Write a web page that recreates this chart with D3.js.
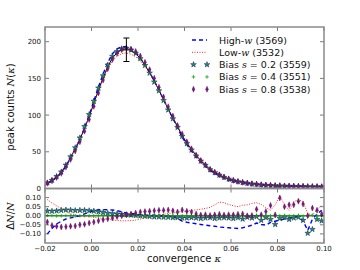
<!DOCTYPE html>
<html>
<head>
<meta charset="utf-8">
<script src="https://cdn.jsdelivr.net/npm/d3@7"></script>
<style>
  body { margin: 0; background: #fff; }
  svg { display: block; }
  text { font-family: "DejaVu Sans", sans-serif; fill: #111; }
  .mi { font-family: "DejaVu Serif", serif; font-style: italic; }
</style>
</head>
<body>
<script>
// bin centres (convergence kappa)
var kappa = [-0.019,-0.017,-0.015,-0.013,-0.011,-0.009,-0.007,-0.005,-0.003,-0.001,
              0.001, 0.003, 0.005, 0.007, 0.009, 0.011, 0.013, 0.015, 0.017, 0.019,
              0.021, 0.023, 0.025, 0.027, 0.029, 0.031, 0.033, 0.035, 0.037, 0.039,
              0.041, 0.043, 0.045, 0.047, 0.049, 0.051, 0.053, 0.055, 0.057, 0.059,
              0.061, 0.063, 0.065, 0.067, 0.069, 0.071, 0.073, 0.075, 0.077, 0.079,
              0.081, 0.083, 0.085, 0.087, 0.089, 0.091, 0.093, 0.095, 0.097, 0.099];

// reference peak counts N(kappa)
var peakCounts = [7.5, 11, 16, 22, 31, 42, 54, 67, 82, 98,
                  116, 134, 151, 166, 178, 185, 189, 190, 188, 184,
                  177, 168, 158, 146, 134, 121, 108, 96, 84, 72,
                  62, 53, 45, 38, 32, 26, 22, 18.5, 15.5, 13,
                  11, 9.5, 8.3, 7.3, 6.4, 5.7, 5.1, 4.6, 4.2, 3.9,
                  3.6, 3.4, 3.2, 3.0, 2.9, 2.8, 2.7, 2.6, 2.5, 2.4];

// relative differences dN/N
var dHighW = [-0.100,-0.070,-0.045,-0.030,-0.018,-0.012,-0.006, 0.000, 0.010, 0.020,
               0.028, 0.033, 0.034, 0.033, 0.032, 0.028, 0.022, 0.016, 0.012, 0.010,
               0.004, 0.004, 0.002, 0.003, 0.002, 0.000,-0.002,-0.005,-0.015,-0.030,
              -0.036,-0.040,-0.044,-0.048,-0.052,-0.055,-0.058,-0.062,-0.064,-0.066,
              -0.068,-0.070,-0.066,-0.060,-0.052,-0.040,-0.048,-0.052,-0.036,-0.030,
              -0.024,-0.018,-0.012,-0.008,-0.005,-0.030,-0.080,-0.020, 0.010, 0.030];
var dLowW  = [ 0.089, 0.070, 0.055, 0.040, 0.023, 0.010, 0.004,-0.001,-0.003,-0.005,
              -0.008,-0.012,-0.016,-0.020,-0.023,-0.026,-0.028,-0.028,-0.027,-0.024,
              -0.018,-0.012,-0.006, 0.000, 0.004, 0.008, 0.012, 0.016, 0.020, 0.023,
               0.026, 0.030, 0.032, 0.036, 0.040, 0.046, 0.060, 0.075, 0.072, 0.062,
               0.055, 0.050, 0.058, 0.060, 0.068, 0.072, 0.062, 0.045, 0.030, 0.060,
               0.110, 0.060, 0.030, 0.078, 0.088, 0.078, 0.012, 0.004, 0.032, 0.060];
var dBias02 = [ 0.026, 0.025, 0.027, 0.030, 0.032, 0.031, 0.029, 0.030, 0.030, 0.028,
                0.026, 0.022, 0.018, 0.014, 0.012, 0.010, 0.008, 0.006, 0.004, 0.002,
                0.000,-0.002,-0.004,-0.006,-0.006,-0.008,-0.008,-0.010,-0.010,-0.012,
               -0.012,-0.010,-0.012,-0.015,-0.012,-0.010,-0.015,-0.012,-0.010,-0.012,
               -0.015,-0.010,-0.018,-0.008,-0.012,-0.005,-0.025,-0.010,-0.020,-0.048,
               -0.015,-0.010,-0.020,-0.012,-0.008,-0.025,-0.096,-0.075,-0.020,-0.028];
var dBias04 = [ 0.002, 0.001,-0.001, 0.000, 0.001, 0.000,-0.001, 0.000, 0.001, 0.000,
                0.000, 0.000, 0.001, 0.000,-0.001, 0.000, 0.000, 0.000, 0.001, 0.000,
                0.000,-0.001, 0.000, 0.000, 0.001, 0.000, 0.000, 0.000,-0.001, 0.000,
                0.000, 0.001, 0.000, 0.000,-0.001, 0.000, 0.000, 0.001, 0.000, 0.000,
               -0.001, 0.000, 0.000, 0.002, 0.000,-0.002, 0.000, 0.001, 0.000,-0.002,
                0.000, 0.002,-0.001, 0.000, 0.002,-0.002, 0.000, 0.003,-0.002, 0.000];
var dBias08 = [-0.034,-0.053,-0.058,-0.062,-0.060,-0.058,-0.056,-0.050,-0.047,-0.040,
               -0.035,-0.028,-0.022,-0.017,-0.012,-0.005, 0.000, 0.005, 0.010, 0.015,
                0.020, 0.023, 0.025, 0.028, 0.030, 0.030, 0.032, 0.027, 0.021, 0.032,
                0.025, 0.020, 0.010, 0.004, 0.006, 0.002, 0.005, 0.008, 0.004, 0.006,
                0.005, 0.008, 0.010, 0.000, 0.002, 0.036, 0.005, 0.023, 0.057, 0.005,
                0.098, 0.050, 0.060, 0.060, 0.080, 0.064, 0.000, 0.042, 0.030, 0.010];

// error bar on the reference curve
var errKappa = [0.015];
var errCount = [189];
var errSize = [16];

var xTicks = [-0.02, 0.00, 0.02, 0.04, 0.06, 0.08, 0.10];
var yTopTicks = [0, 50, 100, 150, 200];
var yBotTicks = [-0.10, -0.05, 0.00, 0.05, 0.10];

var legendNames = ["High-", "Low-", "Bias ", "Bias ", "Bias "];
var legendMath = ["w", "w", "s", "s", "s"];
var legendTail = [" (3569)", " (3532)", " = 0.2 (3559)", " = 0.4 (3551)", " = 0.8 (3538)"];

var W = 360, H = 270;
var svg = d3.select("body").append("svg").attr("width", W).attr("height", H);

var x = d3.scaleLinear().domain([-0.02, 0.10]).range([45, 324]);
var yTop = d3.scaleLinear().domain([0, 220]).range([188.5, 27]);
var yBot = d3.scaleLinear().domain([-0.15, 0.15]).range([243, 188.5]);

var spine = "#8a8a8a";
var starSym = d3.symbol().type(d3.symbolStar).size(10);
var thinDiamond = "M0,-3L1.3,0L0,3L-1.3,0Z";
var plusPath = "M-1.8,0H1.8M0,-1.8V1.8";

svg.append("clipPath").attr("id", "clipTop").append("rect")
  .attr("x", 45).attr("y", 27).attr("width", 279).attr("height", 161.5);
svg.append("clipPath").attr("id", "clipBot").append("rect")
  .attr("x", 45).attr("y", 188.5).attr("width", 279).attr("height", 54.5);

function drawTicks(g, y, yTicks, x0, x1, y0, y1){
  xTicks.forEach(function(t){
    g.append("line").attr("x1", x(t)).attr("x2", x(t)).attr("y1", y1).attr("y2", y1 - 4)
      .style("stroke", "#222").style("stroke-width", 0.6);
    g.append("line").attr("x1", x(t)).attr("x2", x(t)).attr("y1", y0).attr("y2", y0 + 4)
      .style("stroke", "#222").style("stroke-width", 0.6);
  });
  yTicks.forEach(function(t){
    g.append("line").attr("x1", x0).attr("x2", x0 + 4).attr("y1", y(t)).attr("y2", y(t))
      .style("stroke", "#222").style("stroke-width", 0.6);
    g.append("line").attr("x1", x1).attr("x2", x1 - 4).attr("y1", y(t)).attr("y2", y(t))
      .style("stroke", "#222").style("stroke-width", 0.6);
  });
}

function styleStar(s){ s.style("fill", "#1b8a8a").style("stroke", "#123").style("stroke-width", 0.5); }
function stylePlus(s){ s.style("fill", "none").style("stroke", "#1e9a1e").style("stroke-width", 0.8); }
function styleDiam(s){ s.style("fill", "#8b108b").style("stroke", "#3a0a3a").style("stroke-width", 0.4); }

function drawMarkers(g, y, vals){
  var stars = kappa.map(function(k, i){ return [k, vals.star[i]]; });
  var plus = kappa.map(function(k, i){ return [k, vals.plus[i]]; });
  var diam = kappa.map(function(k, i){ return [k, vals.diam[i]]; });
  var pos = function(d){ return "translate(" + x(d[0]) + "," + y(d[1]) + ")"; };

  g.selectAll(".st").data(stars).enter().append("path").attr("d", starSym).attr("transform", pos).call(styleStar);
  g.selectAll(".pl").data(plus).enter().append("path").attr("d", plusPath).attr("transform", pos).call(stylePlus);
  g.selectAll(".dm").data(diam).enter().append("path").attr("d", thinDiamond).attr("transform", pos).call(styleDiam);
}

// ---------- main panel ----------
var gMain = svg.append("g");
var gTop = gMain.append("g").attr("clip-path", "url(#clipTop)");

function scaled(d){ return kappa.map(function(k, i){ return peakCounts[i] * (1 + d[i]); }); }
var nHigh = scaled(dHighW), nLow = scaled(dLowW);

var lineTop = function(arr){
  return d3.line().x(function(d, i){ return x(kappa[i]); }).y(function(d){ return yTop(d); })(arr);
};

gTop.append("path").attr("d", lineTop(peakCounts))
  .style("fill", "none").style("stroke", "#000").style("stroke-width", 1);
gTop.append("path").attr("d", lineTop(nHigh))
  .style("fill", "none").style("stroke", "#0000ff").style("stroke-width", 1.4).style("stroke-dasharray", "4,3");
gTop.append("path").attr("d", lineTop(nLow))
  .style("fill", "none").style("stroke", "#ff2020").style("stroke-width", 1).style("stroke-dasharray", "1,1.5");

drawMarkers(gTop, yTop, { star: scaled(dBias02), plus: scaled(dBias04), diam: scaled(dBias08) });

errKappa.forEach(function(k, i){
  var cx = x(k), lo = yTop(errCount[i] - errSize[i]), hi = yTop(errCount[i] + errSize[i]);
  gTop.append("line").attr("x1", cx).attr("x2", cx).attr("y1", lo).attr("y2", hi)
    .style("stroke", "#000").style("stroke-width", 1);
  gTop.append("line").attr("x1", cx - 3).attr("x2", cx + 3).attr("y1", lo).attr("y2", lo)
    .style("stroke", "#000").style("stroke-width", 1);
  gTop.append("line").attr("x1", cx - 3).attr("x2", cx + 3).attr("y1", hi).attr("y2", hi)
    .style("stroke", "#000").style("stroke-width", 1);
});

drawTicks(gMain, yTop, yTopTicks, 45, 324, 27, 188.5);
gMain.append("rect").attr("x", 45).attr("y", 27).attr("width", 279).attr("height", 161.5)
  .style("fill", "none").style("stroke", spine).style("stroke-width", 1.5);

gMain.selectAll(".yl").data(yTopTicks).enter().append("text")
  .attr("x", 41).attr("y", function(d){ return yTop(d) + 2.5; })
  .attr("text-anchor", "end").style("font-size", "7px").text(function(d){ return d; });

gMain.append("text").attr("transform", "translate(14,107) rotate(-90)")
  .attr("text-anchor", "middle").style("font-size", "10px")
  .html('peak counts <tspan class="mi">N</tspan>(<tspan class="mi">κ</tspan>)');

// legend
var leg = gMain.append("g");
legendNames.forEach(function(name, i){
  var ly = 40 + i * 12.3;
  var row = leg.append("g");
  if(i == 0){
    row.append("line").attr("x1", 192).attr("x2", 207).attr("y1", ly).attr("y2", ly)
      .style("stroke", "#0000ff").style("stroke-width", 1.4).style("stroke-dasharray", "4,3");
  } else if(i == 1){
    row.append("line").attr("x1", 192).attr("x2", 207).attr("y1", ly).attr("y2", ly)
      .style("stroke", "#ff2020").style("stroke-width", 1).style("stroke-dasharray", "1,1.5");
  } else {
    [193.5, 207].forEach(function(mx){
      var m = row.append("path").attr("transform", "translate(" + mx + "," + ly + ")");
      if(i == 2) m.attr("d", starSym).call(styleStar);
      if(i == 3) m.attr("d", plusPath).call(stylePlus);
      if(i == 4) m.attr("d", thinDiamond).call(styleDiam);
    });
  }
  row.append("text").attr("x", 219).attr("y", ly + 3.5).style("font-size", "9.5px")
    .html(name + '<tspan class="mi">' + legendMath[i] + '</tspan>' + legendTail[i]);
});

// ---------- ratio panel ----------
var gRatio = svg.append("g");
var gBot = gRatio.append("g").attr("clip-path", "url(#clipBot)");

var lineBot = function(arr){
  return d3.line().x(function(d, i){ return x(kappa[i]); }).y(function(d){ return yBot(d); })(arr);
};

gBot.append("line").attr("x1", x(-0.02)).attr("x2", x(0.10)).attr("y1", yBot(0)).attr("y2", yBot(0))
  .style("stroke", "#2a9a2a").style("stroke-width", 1.5);
gBot.append("path").attr("d", lineBot(dHighW))
  .style("fill", "none").style("stroke", "#0000ff").style("stroke-width", 1.4).style("stroke-dasharray", "4,3");
gBot.append("path").attr("d", lineBot(dLowW))
  .style("fill", "none").style("stroke", "#ff2020").style("stroke-width", 1).style("stroke-dasharray", "1,1.5");

drawMarkers(gBot, yBot, { star: dBias02, plus: dBias04, diam: dBias08 });

drawTicks(gRatio, yBot, yBotTicks, 45, 324, 188.5, 243);
gRatio.append("rect").attr("x", 45).attr("y", 188.5).attr("width", 279).attr("height", 54.5)
  .style("fill", "none").style("stroke", spine).style("stroke-width", 1.5);

var fmt = d3.format(".2f");
gRatio.selectAll(".yl").data(yBotTicks).enter().append("text")
  .attr("x", 41).attr("y", function(d){ return yBot(d) + 2.5; })
  .attr("text-anchor", "end").style("font-size", "7px").text(function(d){ return fmt(d); });
gRatio.selectAll(".xl").data(xTicks).enter().append("text")
  .attr("x", function(d){ return x(d); }).attr("y", 250.5)
  .attr("text-anchor", "middle").style("font-size", "7px").text(function(d){ return fmt(d); });

gRatio.append("text").attr("transform", "translate(14,216) rotate(-90)")
  .attr("text-anchor", "middle").style("font-size", "10px")
  .html('Δ<tspan class="mi">N</tspan>/<tspan class="mi">N</tspan>');

gRatio.append("text").attr("x", 184).attr("y", 262).attr("text-anchor", "middle").style("font-size", "10px")
  .html('convergence <tspan class="mi">κ</tspan>');
</script>
</body>
</html>
